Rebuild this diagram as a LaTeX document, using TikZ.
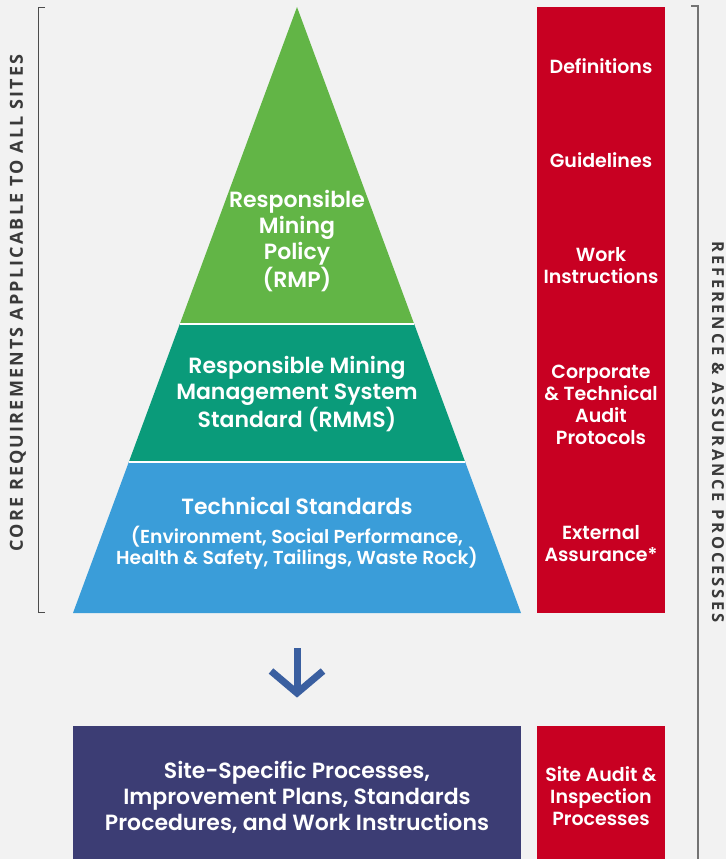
\documentclass[tikz,border=0pt]{standalone}
\usepackage{fontspec}
\setmainfont{Poppins}[BoldFont={Poppins SemiBold}]
\newfontfamily\sidefont{Open Sans}
\usetikzlibrary{calc}
\definecolor{bgray}{HTML}{F2F2F2}
\definecolor{pgreen}{HTML}{62B546}
\definecolor{pteal}{HTML}{0A9B7A}
\definecolor{pblue}{HTML}{3A9DD9}
\definecolor{pred}{HTML}{C80022}
\definecolor{ppurple}{HTML}{3C3D74}
\definecolor{parrow}{HTML}{3A5FA0}
\definecolor{sidetext}{HTML}{3A3A3A}
\begin{document}
\begin{tikzpicture}[x=1pt,y=-1pt,
  lbl/.style={text=white,font=\bfseries\fontsize{22}{26}\selectfont,align=center},
  sublbl/.style={text=white,font=\bfseries\fontsize{18.8}{21.5}\selectfont,align=center},
  redlbl/.style={text=white,font=\bfseries\fontsize{19}{22}\selectfont,align=center},
  leftlbl/.style={text=sidetext,font=\sidefont\bfseries\fontsize{18}{20}\selectfont\addfontfeature{LetterSpace=12}},
  rightlbl/.style={text=sidetext,font=\sidefont\bfseries\fontsize{16.5}{18}\selectfont\addfontfeature{LetterSpace=17}},
  brk/.style={draw=black!70,line width=0.9pt}]
\useasboundingbox[fill=bgray] (0,0) rectangle (726,859);
% pyramid corners
\coordinate (apex) at (297,7);
\coordinate (bl) at (73,613);
\coordinate (br) at (521,613);
\coordinate (g1l) at ($(apex)!317/606!(bl)$);
\coordinate (g1r) at ($(apex)!317/606!(br)$);
\coordinate (g2l) at ($(apex)!455/606!(bl)$);
\coordinate (g2r) at ($(apex)!455/606!(br)$);
\fill[pgreen] (apex) -- (g1r) -- (g1l) -- cycle;
\fill[pteal] (g1l) -- (g1r) -- (g2r) -- (g2l) -- cycle;
\fill[pblue] (g2l) -- (g2r) -- (br) -- (bl) -- cycle;
\draw[white,line width=2.4pt] (g1l) -- (g1r);
\draw[white,line width=2.4pt] (g2l) -- (g2r);
% pyramid labels
\node[lbl] (rmp) at (297,241) {Responsible\\Mining\\Policy\\(RMP)};
\node[lbl] (rmms) at (297,394) {Responsible Mining\\Management System\\Standard (RMMS)};
\node[lbl] (tech) at (297,506) {Technical Standards};
\node[sublbl] (techsub) at (297,548) {(Environment, Social Performance,\\Health \& Safety, Tailings, Waste Rock)};
% red reference column
\fill[pred] (537,7) rectangle (665,613);
\node[redlbl] (defs) at (601,66) {Definitions};
\node[redlbl] (guide) at (601,160) {Guidelines};
\node[redlbl] (workins) at (601,266) {Work\\Instructions};
\node[redlbl] (audit) at (601,405) {Corporate\\\& Technical\\Audit\\Protocols};
\node[redlbl] (ext) at (601,544) {External\\Assurance*};
% downward arrow
\coordinate (arrtop) at (297,648);
\coordinate (arrtip) at (297,693);
\draw[parrow,line width=7pt] (arrtop) -- ($(arrtip)+(0,-3)$);
\draw[parrow,line width=7pt,miter limit=10] (271,671) -- (arrtip) -- (323,671);
% site level boxes
\fill[ppurple] (73,726) rectangle (521,859);
\node[lbl] (site) at (297,797) {Site-Specific Processes,\\Improvement Plans, Standards\\Procedures, and Work Instructions};
\fill[pred] (537,726) rectangle (665,859);
\node[redlbl] (siteaud) at (601,796) {Site Audit \&\\Inspection\\Processes};
% left bracket
\draw[brk] (45,7) -- (38,7) -- (38,612) -- (45,612);
\node[leftlbl,rotate=90] (core) at (18,303) {CORE REQUIREMENTS APPLICABLE TO ALL SITES};
% right bracket
\draw[draw=black!55,line width=1.2pt] (691,6) -- (698,6) -- (698,859);
\node[rightlbl,rotate=-90] (refs) at (718,432) {REFERENCE \& ASSURANCE PROCESSES};
\end{tikzpicture}
\end{document}
